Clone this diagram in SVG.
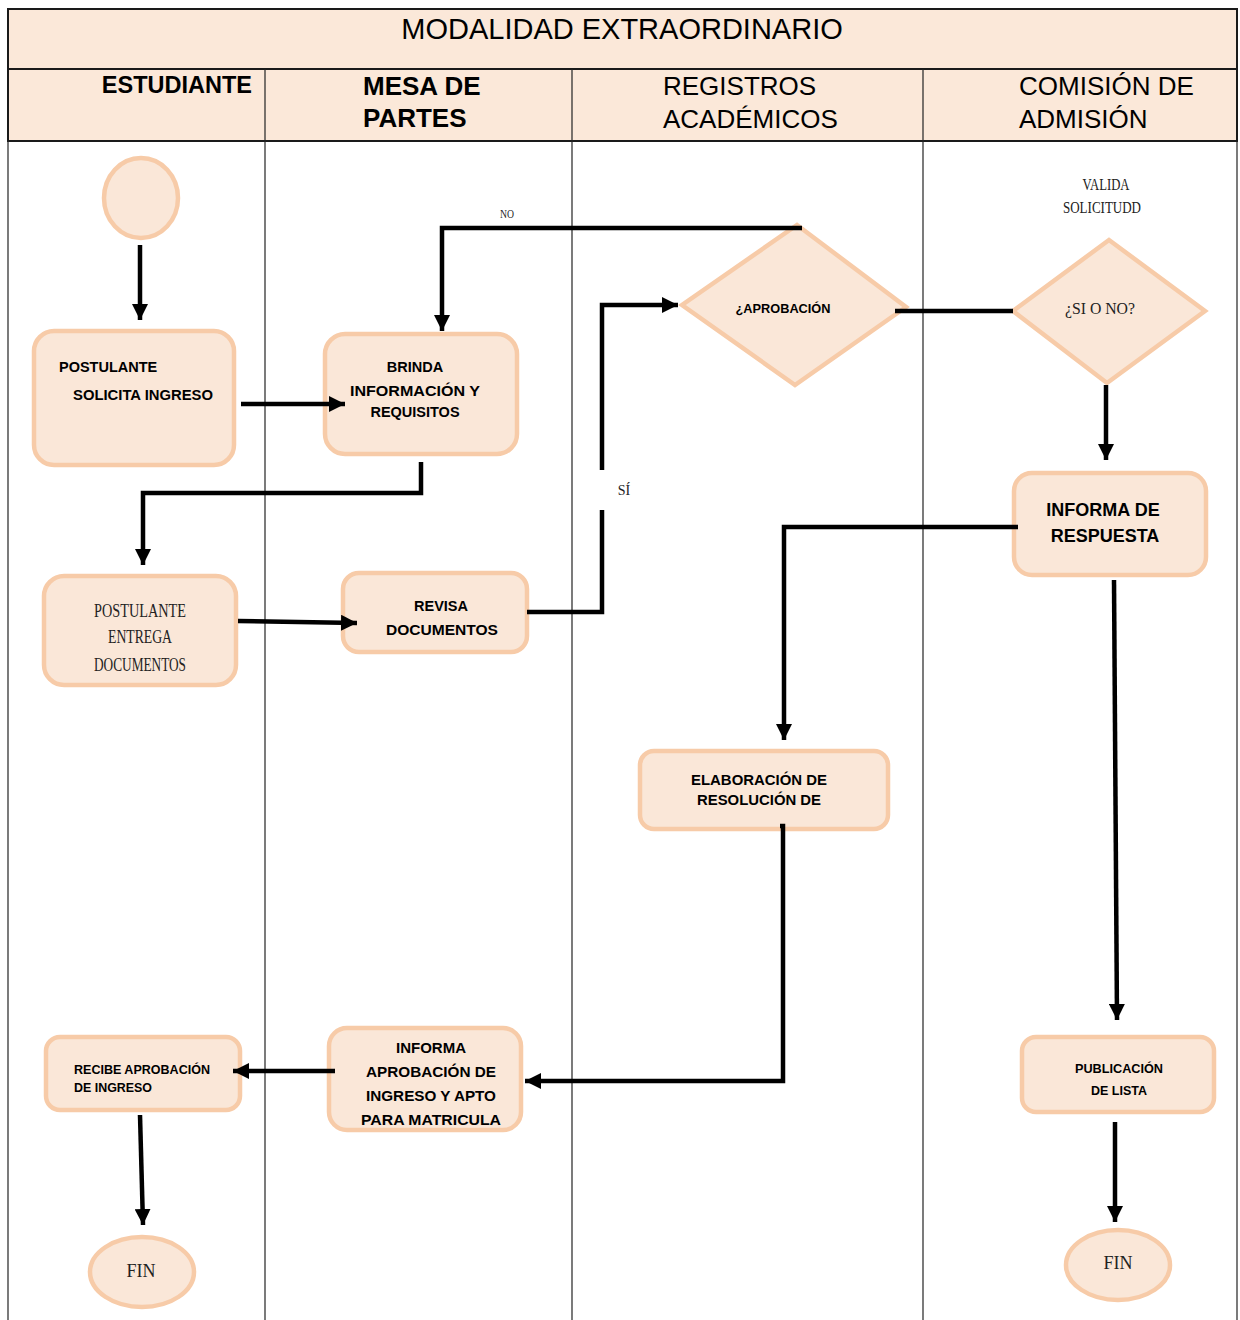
<svg xmlns="http://www.w3.org/2000/svg" width="1240" height="1320" viewBox="0 0 1240 1320">
<style>
.hdr{fill:#FBE8D9;stroke:#1a1a1a;stroke-width:2}
.lane{stroke:#222;stroke-width:1.2;fill:none}
.box{fill:#FAE7D8;stroke:#F7CBA8;stroke-width:4.5}
.cn{fill:none;stroke:#000;stroke-width:4.5}
.b{font-family:"Liberation Sans",Arial,sans-serif;font-weight:bold;fill:#000}
.r{font-family:"Liberation Sans",Arial,sans-serif;fill:#000}
.s{font-family:"Liberation Serif","Times New Roman",serif;fill:#222}
</style>
<defs>
<marker id="ah" markerUnits="userSpaceOnUse" markerWidth="18" markerHeight="16" refX="16" refY="8" orient="auto">
<path d="M0,0 L16,8 L0,16 z" fill="#000"/>
</marker>
</defs>
<rect width="1240" height="1320" fill="#fff"/>
<g id="header">
<rect class="hdr" x="8" y="9" width="1229" height="60"/>
<rect class="hdr" x="8" y="69" width="1229" height="72"/>
<line class="lane" x1="265" y1="69" x2="265" y2="1320"/>
<line class="lane" x1="572" y1="69" x2="572" y2="1320"/>
<line class="lane" x1="923" y1="69" x2="923" y2="1320"/>
<line class="lane" x1="8" y1="141" x2="8" y2="1320"/>
<line class="lane" x1="1237" y1="141" x2="1237" y2="1320"/>
<text class="r" x="622" y="39" font-size="29" text-anchor="middle">MODALIDAD EXTRAORDINARIO</text>
<text class="b" x="252" y="93" font-size="23.5" text-anchor="end">ESTUDIANTE</text>
<text class="b" x="363" y="95" font-size="26">MESA DE</text>
<text class="b" x="363" y="127" font-size="26">PARTES</text>
<text class="r" x="663" y="95" font-size="26">REGISTROS</text>
<text class="r" x="663" y="128" font-size="26">ACADÉMICOS</text>
<text class="r" x="1019" y="95" font-size="26">COMISIÓN DE</text>
<text class="r" x="1019" y="128" font-size="26">ADMISIÓN</text>
</g>
<g id="start">
<ellipse class="box" cx="141" cy="198" rx="37" ry="40"/>
</g>
<g id="postulante-solicita">
<rect class="box" x="34" y="331" width="200" height="134" rx="20"/>
<text class="b" x="59" y="372" font-size="14.5">POSTULANTE</text>
<text class="b" x="73" y="400" font-size="14.5" textLength="140" lengthAdjust="spacingAndGlyphs">SOLICITA INGRESO</text>
</g>
<g id="brinda">
<rect class="box" x="325" y="334" width="192" height="120" rx="20"/>
<text class="b" x="415" y="372" font-size="14.5" text-anchor="middle">BRINDA</text>
<text class="b" x="415" y="396" font-size="14.5" text-anchor="middle" textLength="130" lengthAdjust="spacingAndGlyphs">INFORMACIÓN Y</text>
<text class="b" x="415" y="417" font-size="14.5" text-anchor="middle">REQUISITOS</text>
</g>
<g id="postulante-entrega">
<rect class="box" x="44" y="576" width="192" height="109" rx="20"/>
<text class="s" x="140" y="617" font-size="19" text-anchor="middle" textLength="92" lengthAdjust="spacingAndGlyphs">POSTULANTE</text>
<text class="s" x="140" y="643" font-size="19" text-anchor="middle" textLength="64" lengthAdjust="spacingAndGlyphs">ENTREGA</text>
<text class="s" x="140" y="671" font-size="19" text-anchor="middle" textLength="92" lengthAdjust="spacingAndGlyphs">DOCUMENTOS</text>
</g>
<g id="revisa">
<rect class="box" x="343" y="573" width="184" height="79" rx="16"/>
<text class="b" x="441" y="611" font-size="14.5" text-anchor="middle">REVISA</text>
<text class="b" x="442" y="635" font-size="14.5" text-anchor="middle" textLength="112" lengthAdjust="spacingAndGlyphs">DOCUMENTOS</text>
</g>
<g id="aprobacion">
<polygon class="box" points="797,225 906,307 795,385 682,305"/>
<text class="b" x="783" y="313" font-size="13" text-anchor="middle" textLength="95" lengthAdjust="spacingAndGlyphs">¿APROBACIÓN</text>
</g>
<g id="valida">
<text class="s" x="1106" y="190" font-size="16" text-anchor="middle" textLength="47" lengthAdjust="spacingAndGlyphs">VALIDA</text>
<text class="s" x="1102" y="213" font-size="16" text-anchor="middle" textLength="78" lengthAdjust="spacingAndGlyphs">SOLICITUDD</text>
<polygon class="box" points="1109,240 1205,311 1107,383 1013,311"/>
<text class="s" x="1100" y="314" font-size="17" text-anchor="middle" textLength="70" lengthAdjust="spacingAndGlyphs">¿SI O NO?</text>
</g>
<g id="informa-respuesta">
<rect class="box" x="1014" y="473" width="192" height="102" rx="18"/>
<text class="b" x="1103" y="516" font-size="18" text-anchor="middle">INFORMA DE</text>
<text class="b" x="1105" y="542" font-size="18" text-anchor="middle">RESPUESTA</text>
</g>
<g id="elaboracion">
<rect class="box" x="640" y="751" width="248" height="78" rx="14"/>
<text class="b" x="759" y="785" font-size="14.5" text-anchor="middle" textLength="136" lengthAdjust="spacingAndGlyphs">ELABORACIÓN DE</text>
<text class="b" x="759" y="805" font-size="14.5" text-anchor="middle" textLength="124" lengthAdjust="spacingAndGlyphs">RESOLUCIÓN DE</text>
</g>
<g id="informa-aprobacion">
<rect class="box" x="329" y="1028" width="192" height="102" rx="18"/>
<text class="b" x="431" y="1053" font-size="15" text-anchor="middle">INFORMA</text>
<text class="b" x="431" y="1077" font-size="15" text-anchor="middle" textLength="130" lengthAdjust="spacingAndGlyphs">APROBACIÓN DE</text>
<text class="b" x="431" y="1101" font-size="15" text-anchor="middle" textLength="130" lengthAdjust="spacingAndGlyphs">INGRESO Y APTO</text>
<text class="b" x="431" y="1125" font-size="15" text-anchor="middle" textLength="140" lengthAdjust="spacingAndGlyphs">PARA MATRICULA</text>
</g>
<g id="recibe">
<rect class="box" x="46" y="1037" width="194" height="73" rx="14"/>
<text class="b" x="74" y="1074" font-size="13" textLength="136" lengthAdjust="spacingAndGlyphs">RECIBE APROBACIÓN</text>
<text class="b" x="74" y="1092" font-size="13" textLength="78" lengthAdjust="spacingAndGlyphs">DE INGRESO</text>
</g>
<g id="fin-estudiante">
<ellipse class="box" cx="142" cy="1272" rx="52" ry="35"/>
<text class="s" x="141" y="1277" font-size="18" text-anchor="middle">FIN</text>
</g>
<g id="publicacion">
<rect class="box" x="1022" y="1037" width="192" height="75" rx="14"/>
<text class="b" x="1119" y="1073" font-size="13" text-anchor="middle" textLength="88" lengthAdjust="spacingAndGlyphs">PUBLICACIÓN</text>
<text class="b" x="1119" y="1095" font-size="13" text-anchor="middle" textLength="56" lengthAdjust="spacingAndGlyphs">DE LISTA</text>
</g>
<g id="fin-comision">
<ellipse class="box" cx="1118" cy="1265" rx="52" ry="35"/>
<text class="s" x="1118" y="1269" font-size="18" text-anchor="middle">FIN</text>
</g>
<g id="connectors">
<line class="cn" x1="140" y1="245" x2="140" y2="320" marker-end="url(#ah)"/>
<line class="cn" x1="241" y1="404" x2="345" y2="404" marker-end="url(#ah)"/>
<polyline class="cn" points="421,462 421,493 143,493 143,565" marker-end="url(#ah)"/>
<line class="cn" x1="238" y1="621" x2="357" y2="623" marker-end="url(#ah)"/>
<polyline class="cn" points="527,612 602,612 602,510"/>
<polyline class="cn" points="602,470 602,305 678,305" marker-end="url(#ah)"/>
<polyline class="cn" points="802,228 442,228 442,331" marker-end="url(#ah)"/>
<line class="cn" x1="895" y1="311" x2="1013" y2="311"/>
<line class="cn" x1="1106" y1="385" x2="1106" y2="460" marker-end="url(#ah)"/>
<polyline class="cn" points="1018,527 784,527 784,740" marker-end="url(#ah)"/>
<polyline class="cn" points="780,826 783,826 783,1081 525,1081" marker-end="url(#ah)"/>
<line class="cn" x1="335" y1="1071" x2="233" y2="1071" marker-end="url(#ah)"/>
<line class="cn" x1="140" y1="1115" x2="143" y2="1225" marker-end="url(#ah)"/>
<line class="cn" x1="1114" y1="580" x2="1117" y2="1020" marker-end="url(#ah)"/>
<line class="cn" x1="1115" y1="1122" x2="1115" y2="1222" marker-end="url(#ah)"/>
<text class="s" x="507" y="218" font-size="13" text-anchor="middle" textLength="14" lengthAdjust="spacingAndGlyphs">NO</text>
<text class="s" x="624" y="495" font-size="14" text-anchor="middle">SÍ</text>
</g>
</svg>
